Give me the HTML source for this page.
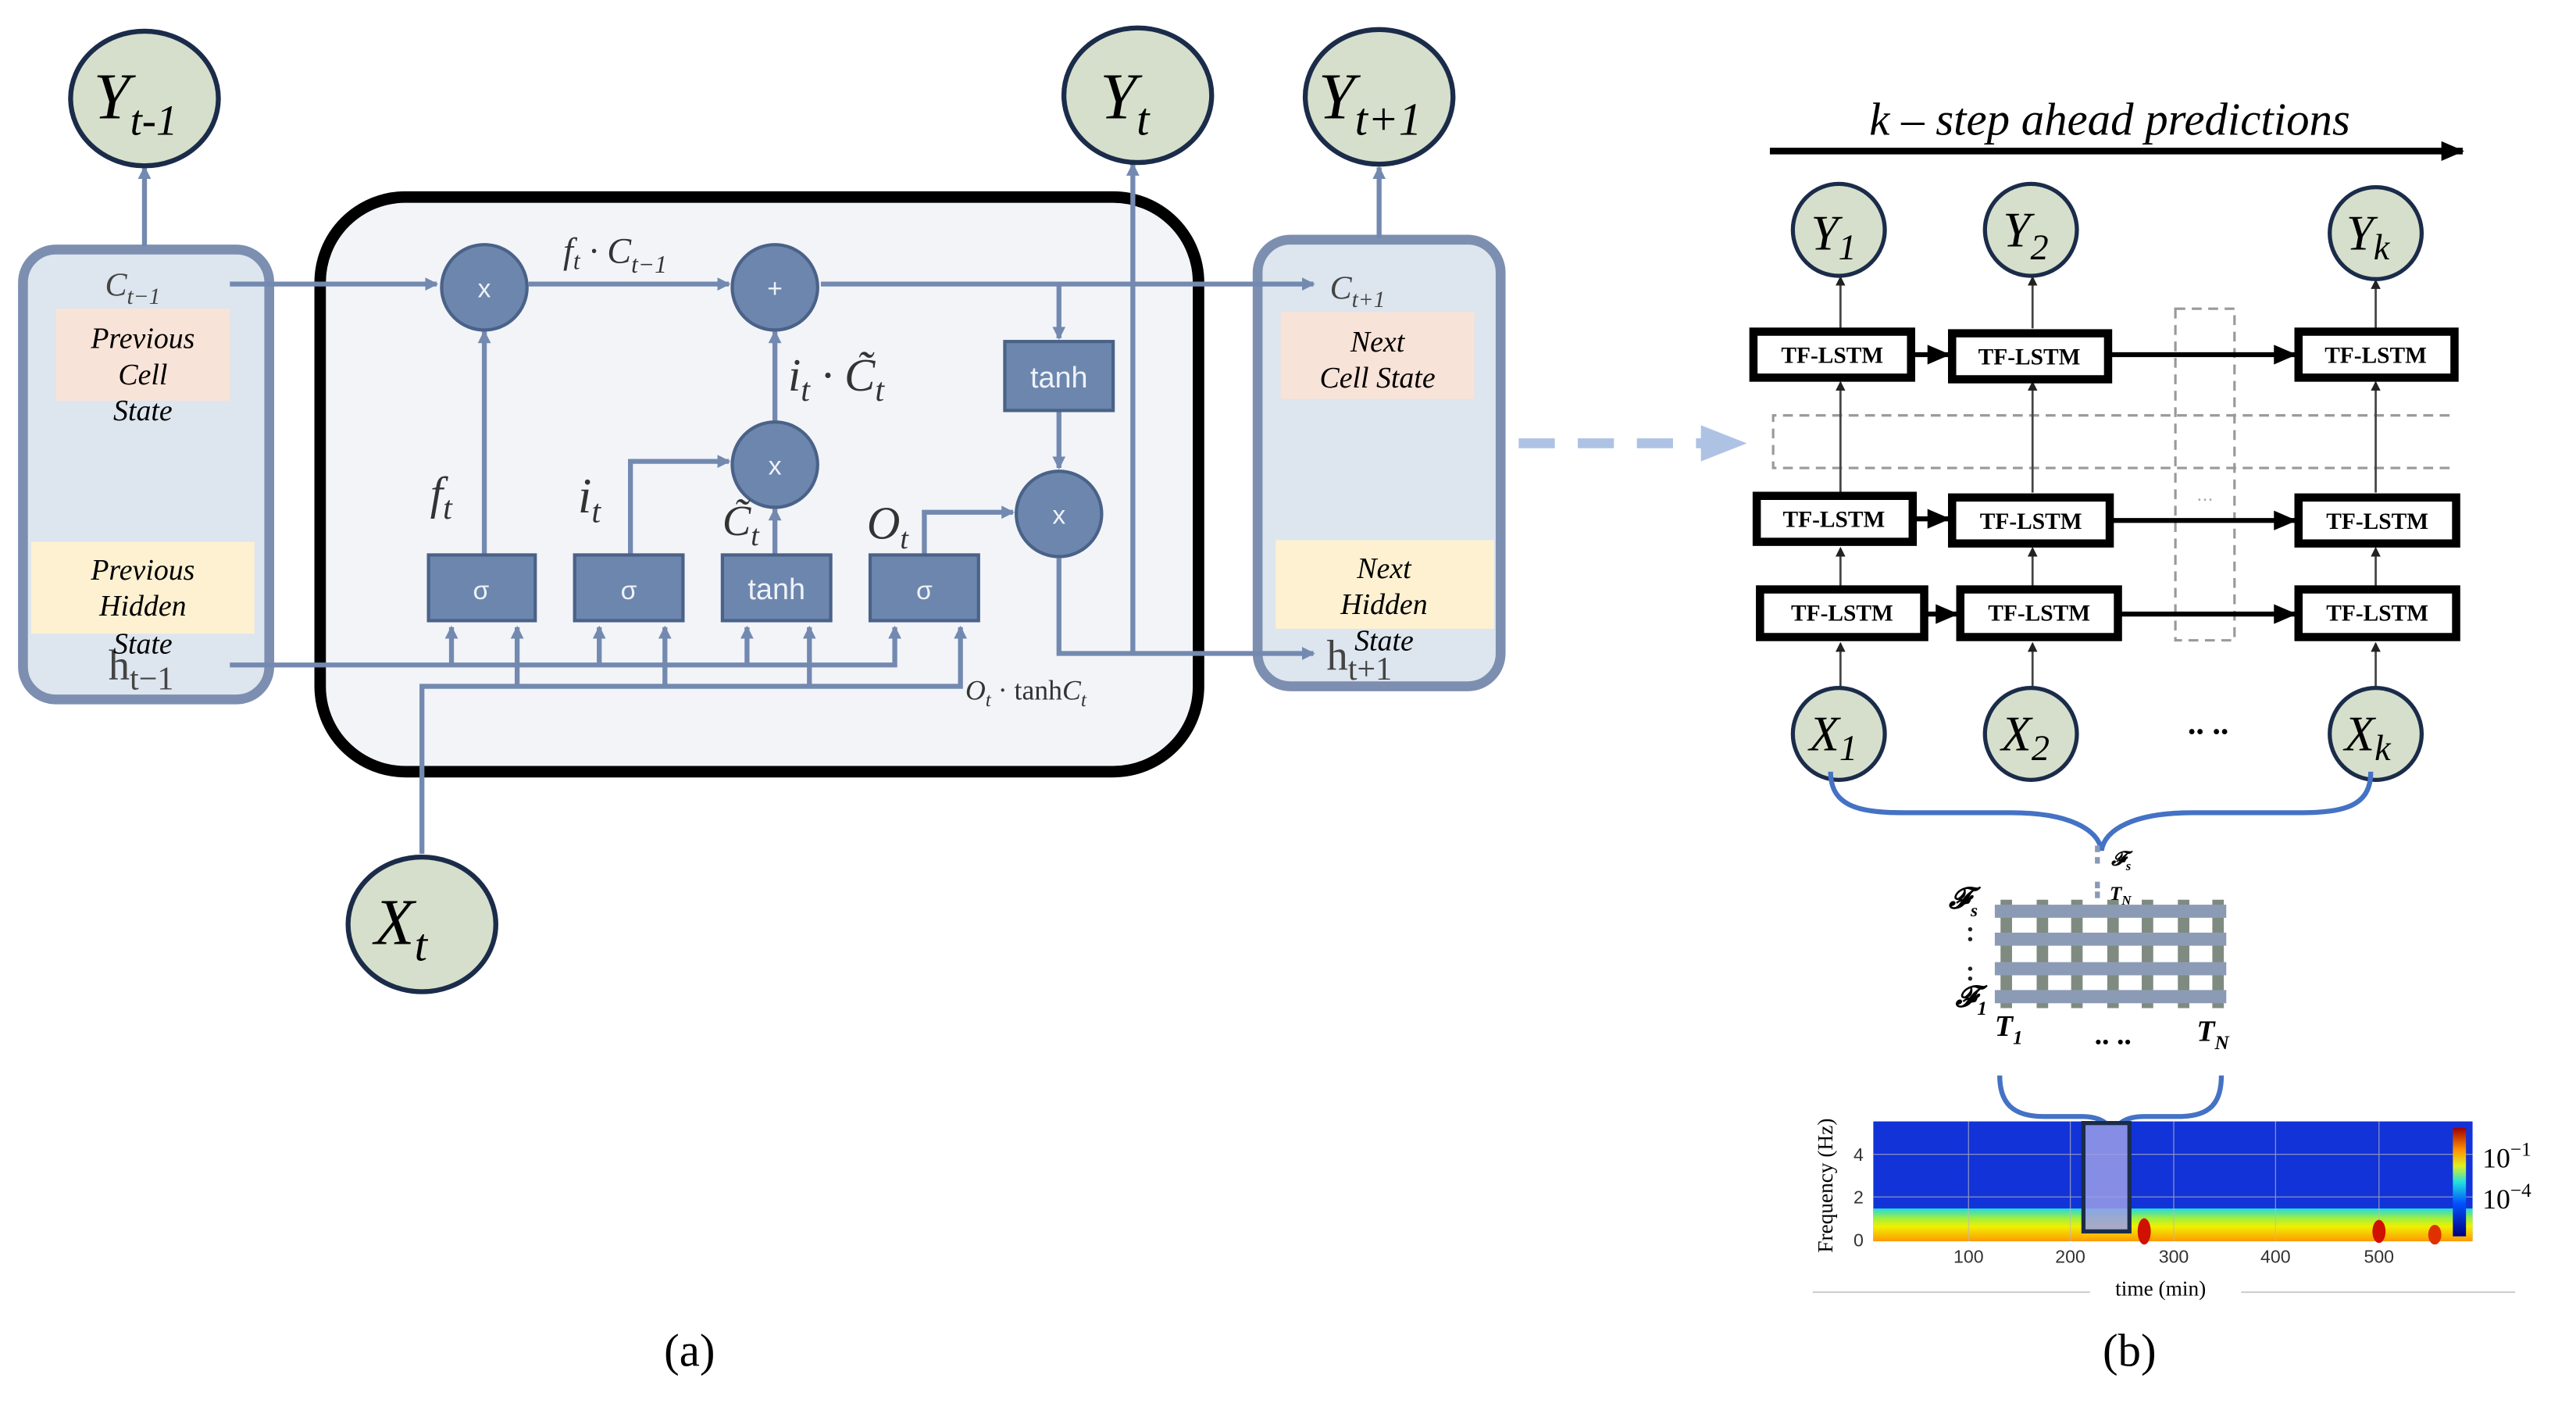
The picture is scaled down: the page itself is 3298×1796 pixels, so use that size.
<!DOCTYPE html>
<html><head><meta charset="utf-8"><style>
html,body{margin:0;padding:0;background:#fff;}
svg{display:block;}
.ser{font-family:"Liberation Serif",serif;}
.sans{font-family:"Liberation Sans",sans-serif;}
</style></head><body>
<svg width="3298" height="1796" viewBox="0 0 1569 854.5" preserveAspectRatio="none" xmlns="http://www.w3.org/2000/svg">
<defs>
<marker id="ab" markerWidth="8" markerHeight="8" refX="7" refY="4" orient="auto" markerUnits="userSpaceOnUse"><path d="M0,0 L8,4 L0,8 Z" fill="#7389b0"/></marker>
<marker id="ak" markerWidth="14" markerHeight="12" refX="13" refY="6" orient="auto" markerUnits="userSpaceOnUse"><path d="M0,0 L14,6 L0,12 Z" fill="#000"/></marker>
<marker id="ak2" markerWidth="6" markerHeight="6" refX="5" refY="3" orient="auto" markerUnits="userSpaceOnUse"><path d="M0,0 L6,3 L0,6 Z" fill="#222"/></marker>
<linearGradient id="cb" x1="0" y1="1" x2="0" y2="0"><stop offset="0" stop-color="#00007f"/><stop offset="0.3" stop-color="#0050ff"/><stop offset="0.5" stop-color="#20e0e0"/><stop offset="0.65" stop-color="#e0f020"/><stop offset="0.8" stop-color="#ff9000"/><stop offset="1" stop-color="#a00000"/></linearGradient>
<linearGradient id="band" x1="0" y1="0" x2="0" y2="1"><stop offset="0" stop-color="#20d8e0"/><stop offset="0.3" stop-color="#a0f040"/><stop offset="0.55" stop-color="#f0f000"/><stop offset="1" stop-color="#ff9a00"/></linearGradient>
</defs>

<!-- ===== Panel (a) ===== -->
<rect x="14" y="152" width="150" height="274" rx="20" fill="#dde5ee" stroke="#7d8fb0" stroke-width="6"/>
<rect x="34" y="188" width="106" height="56" fill="#f8e3d8"/>
<rect x="19" y="330" width="136" height="56" fill="#fdf1d2"/>
<rect x="766" y="146" width="148" height="272" rx="20" fill="#dde5ee" stroke="#7d8fb0" stroke-width="6"/>
<rect x="780" y="190" width="118" height="53" fill="#f8e3d8"/>
<rect x="777" y="329" width="133" height="54" fill="#fdf1d2"/>
<rect x="195" y="120" width="535" height="350" rx="52" fill="#f2f4f8" stroke="#000" stroke-width="7"/>

<g stroke="#7389b0" stroke-width="3" fill="none">
<line x1="140" y1="173" x2="266" y2="173" marker-end="url(#ab)"/>
<line x1="322" y1="173" x2="444" y2="173" marker-end="url(#ab)"/>
<line x1="500" y1="173" x2="800" y2="173" marker-end="url(#ab)"/>
<line x1="645" y1="173" x2="645" y2="206" marker-end="url(#ab)"/>
<line x1="645" y1="250" x2="645" y2="285" marker-end="url(#ab)"/>
<line x1="295" y1="338" x2="295" y2="202" marker-end="url(#ab)"/>
<line x1="472" y1="258" x2="472" y2="202" marker-end="url(#ab)"/>
<line x1="472" y1="338" x2="472" y2="310" marker-end="url(#ab)"/>
<polyline points="384,338 384,281 444,281" marker-end="url(#ab)"/>
<polyline points="563,338 563,312 617,312" marker-end="url(#ab)"/>
<polyline points="645,340 645,398 800,398" marker-end="url(#ab)"/>
<line x1="690" y1="398" x2="690" y2="100" marker-end="url(#ab)"/>
<line x1="88" y1="150" x2="88" y2="102" marker-end="url(#ab)"/>
<line x1="840" y1="145" x2="840" y2="102" marker-end="url(#ab)"/>
<polyline points="140,405 545,405 545,382" marker-end="url(#ab)"/>
<line x1="275" y1="405" x2="275" y2="382" marker-end="url(#ab)"/>
<line x1="365" y1="405" x2="365" y2="382" marker-end="url(#ab)"/>
<line x1="455" y1="405" x2="455" y2="382" marker-end="url(#ab)"/>
<polyline points="257,520 257,418 585,418 585,382" marker-end="url(#ab)"/>
<line x1="315" y1="418" x2="315" y2="382" marker-end="url(#ab)"/>
<line x1="405" y1="418" x2="405" y2="382" marker-end="url(#ab)"/>
<line x1="493" y1="418" x2="493" y2="382" marker-end="url(#ab)"/>
</g>
<g fill="#6d86ad" stroke="#4a6288" stroke-width="2">
<circle cx="295" cy="175" r="26"/><circle cx="472" cy="175" r="26"/>
<circle cx="472" cy="283" r="26"/><circle cx="645" cy="313" r="26"/>
<rect x="612" y="208" width="66" height="42"/>
<rect x="261" y="338" width="65" height="40"/><rect x="350" y="338" width="66" height="40"/>
<rect x="440" y="338" width="66" height="40"/><rect x="530" y="338" width="66" height="40"/>
</g>
<g class="sans" fill="#eef2f8" font-size="16" text-anchor="middle">
<text x="295" y="181">x</text><text x="472" y="181">+</text><text x="472" y="289">x</text><text x="645" y="319">x</text>
<text x="645" y="236" font-size="18">tanh</text>
<text x="293" y="365">σ</text><text x="383" y="365">σ</text><text x="473" y="365" font-size="18">tanh</text><text x="563" y="365">σ</text>
</g>
<g class="ser" font-style="italic" fill="#333">
<text x="343" y="160" font-size="22">f<tspan font-size="15" dy="4">t</tspan><tspan dy="-4"> · C</tspan><tspan font-size="15" dy="6">t−1</tspan></text>
<text x="480" y="238" font-size="28">i<tspan font-size="20" dy="6">t</tspan><tspan dy="-6"> · C̃</tspan><tspan font-size="20" dy="6">t</tspan></text>
<text x="262" y="310" font-size="28">f<tspan font-size="20" dy="6">t</tspan></text>
<text x="352" y="312" font-size="30">i<tspan font-size="20" dy="6">t</tspan></text>
<text x="440" y="326" font-size="26">C̃<tspan font-size="18" dy="6">t</tspan></text>
<text x="528" y="328" font-size="28">O<tspan font-size="18" dy="6">t</tspan></text>
<text x="588" y="426" font-size="17">O<tspan font-size="12" dy="4">t</tspan><tspan dy="-4" font-style="normal"> · tanh</tspan>C<tspan font-size="12" dy="4">t</tspan></text>
<text x="64" y="180" font-size="20" fill="#444">C<tspan font-size="14" dy="5">t−1</tspan></text>
<text x="810" y="182" font-size="20" fill="#444">C<tspan font-size="14" dy="5">t+1</tspan></text>
</g>
<g class="ser" font-size="26" fill="#444">
<text x="66" y="414">h<tspan font-size="20" dy="6">t−1</tspan></text>
<text x="808" y="408">h<tspan font-size="20" dy="6">t+1</tspan></text>
</g>
<g class="ser" font-style="italic" font-size="18" fill="#000" text-anchor="middle">
<text x="87" y="212">Previous</text><text x="87" y="234">Cell</text><text x="87" y="256">State</text>
<text x="87" y="353">Previous</text><text x="87" y="375">Hidden</text><text x="87" y="398">State</text>
<text x="839" y="214">Next</text><text x="839" y="236">Cell State</text>
<text x="843" y="352">Next</text><text x="843" y="374">Hidden</text><text x="843" y="396">State</text>
</g>
<g fill="#d6dfcb" stroke="#1b2c4a" stroke-width="3">
<ellipse cx="88" cy="60" rx="45" ry="41"/>
<ellipse cx="693" cy="58" rx="45" ry="41"/>
<ellipse cx="840" cy="59" rx="45" ry="41"/>
<ellipse cx="257" cy="563" rx="45" ry="41"/>
</g>
<g class="ser" font-style="italic" fill="#000">
<text x="57" y="72" font-size="40">Y<tspan font-size="26" dy="10">t-1</tspan></text>
<text x="670" y="72" font-size="40">Y<tspan font-size="28" dy="10">t</tspan></text>
<text x="803" y="72" font-size="40">Y<tspan font-size="28" dy="10">t+1</tspan></text>
<text x="228" y="575" font-size="40">X<tspan font-size="28" dy="10">t</tspan></text>
</g>
<line x1="925" y1="270" x2="1040" y2="270" stroke="#aec2e4" stroke-width="6" stroke-dasharray="22,14"/>
<path d="M1036,259 L1064,270 L1036,281 Z" fill="#aec2e4"/>
<text class="ser" x="420" y="832" font-size="28" text-anchor="middle">(a)</text>

<!-- ===== Panel (b) ===== -->
<text class="ser" x="1285" y="82" font-size="28" font-style="italic" text-anchor="middle">k – step ahead predictions</text>
<line x1="1078" y1="92" x2="1500" y2="92" stroke="#000" stroke-width="4" marker-end="url(#ak)"/>
<g fill="none" stroke="#999" stroke-width="1.5" stroke-dasharray="6,4">
<path d="M1492,253 L1080,253 L1080,285 L1492,285"/>
<rect x="1325" y="188" width="36" height="202"/>
</g>
<text x="1343" y="305" font-size="12" fill="#aaa" text-anchor="middle" class="sans">...</text>
<g stroke="#444" stroke-width="1.3" marker-end="url(#ak2)">
<line x1="1121" y1="200" x2="1121" y2="169"/><line x1="1238" y1="200" x2="1238" y2="169"/><line x1="1447" y1="200" x2="1447" y2="171"/>
<line x1="1121" y1="300" x2="1121" y2="233"/><line x1="1238" y1="300" x2="1238" y2="233"/><line x1="1447" y1="300" x2="1447" y2="233"/>
<line x1="1121" y1="358" x2="1121" y2="334"/><line x1="1238" y1="358" x2="1238" y2="334"/><line x1="1447" y1="358" x2="1447" y2="334"/>
<line x1="1121" y1="420" x2="1121" y2="392"/><line x1="1238" y1="420" x2="1238" y2="392"/><line x1="1447" y1="420" x2="1447" y2="392"/>
</g>
<g stroke="#000" stroke-width="3" marker-end="url(#ak)">
<line x1="1164" y1="216" x2="1187" y2="216"/><line x1="1284" y1="216" x2="1398" y2="216"/>
<line x1="1166" y1="316" x2="1187" y2="316"/><line x1="1285" y1="317" x2="1398" y2="317"/>
<line x1="1173" y1="374" x2="1192" y2="374"/><line x1="1290" y1="374" x2="1398" y2="374"/>
</g>
<g fill="#fff" stroke="#000" stroke-width="5">
<rect x="1068" y="202" width="96" height="28"/><rect x="1189" y="203" width="95" height="28"/><rect x="1400" y="202" width="95" height="28"/>
<rect x="1070" y="302" width="95" height="28"/><rect x="1189" y="303" width="96" height="28"/><rect x="1400" y="303" width="96" height="28"/>
<rect x="1072" y="359" width="100" height="29"/><rect x="1194" y="359" width="96" height="29"/><rect x="1400" y="359" width="96" height="29"/>
</g>
<g class="ser" font-weight="bold" font-size="14" text-anchor="middle">
<text x="1116" y="221">TF-LSTM</text><text x="1236" y="222">TF-LSTM</text><text x="1447" y="221">TF-LSTM</text>
<text x="1117" y="321">TF-LSTM</text><text x="1237" y="322">TF-LSTM</text><text x="1448" y="322">TF-LSTM</text>
<text x="1122" y="378">TF-LSTM</text><text x="1242" y="378">TF-LSTM</text><text x="1448" y="378">TF-LSTM</text>
</g>
<g fill="#d6dfcb" stroke="#1b2c4a" stroke-width="2.5">
<circle cx="1120" cy="140" r="28"/><circle cx="1237" cy="140" r="28"/><circle cx="1447" cy="142" r="28"/>
<circle cx="1120" cy="447" r="28"/><circle cx="1237" cy="447" r="28"/><circle cx="1447" cy="447" r="28"/>
</g>
<g class="ser" font-style="italic" font-size="30" fill="#000">
<text x="1103" y="152">Y<tspan font-size="22" dy="6">1</tspan></text>
<text x="1220" y="150">Y<tspan font-size="22" dy="8">2</tspan></text>
<text x="1429" y="152">Y<tspan font-size="22" dy="6">k</tspan></text>
<text x="1102" y="457">X<tspan font-size="22" dy="6">1</tspan></text>
<text x="1219" y="457">X<tspan font-size="22" dy="6">2</tspan></text>
<text x="1428" y="457">X<tspan font-size="22" dy="6">k</tspan></text>
</g>
<text x="1345" y="447" font-size="20" font-weight="bold" text-anchor="middle" class="ser">..  ..</text>
<g fill="none" stroke="#4472c4" stroke-width="3">
<path d="M1115,470 C1115,490 1130,495 1160,495 L1225,495 C1260,495 1278,505 1280,518 C1282,505 1300,495 1335,495 L1400,495 C1430,495 1444,490 1444,470"/>
<path d="M1218,655 C1218,672 1226,680 1245,680 L1268,680 C1280,680 1286,685 1287,692 C1288,685 1294,680 1306,680 L1327,680 C1346,680 1353,672 1353,655"/>
</g>
<rect x="1215" y="548" width="141" height="66" fill="#fff"/>
<g stroke="#7f8a80" stroke-width="7">
<line x1="1222" y1="548" x2="1222" y2="614"/><line x1="1244" y1="548" x2="1244" y2="614"/><line x1="1265" y1="548" x2="1265" y2="614"/>
<line x1="1287" y1="548" x2="1287" y2="614"/><line x1="1308" y1="548" x2="1308" y2="614"/><line x1="1330" y1="548" x2="1330" y2="614"/><line x1="1351" y1="548" x2="1351" y2="614"/>
</g>
<g stroke="#8c9bb5" stroke-width="8">
<line x1="1215" y1="555" x2="1356" y2="555"/><line x1="1215" y1="572" x2="1356" y2="572"/><line x1="1215" y1="590" x2="1356" y2="590"/><line x1="1215" y1="607" x2="1356" y2="607"/>
</g>
<g class="ser" font-weight="bold" font-style="italic" fill="#000">
<text x="1187" y="553" font-size="18">𝓕<tspan font-size="11" dy="5">s</tspan></text>
<text x="1191" y="613" font-size="18">𝓕<tspan font-size="12" dy="5">1</tspan></text>
<text x="1215" y="631" font-size="18">T<tspan font-size="12" dy="5">1</tspan></text>
<text x="1338" y="634" font-size="18">T<tspan font-size="12" dy="5">N</tspan></text>
<text x="1286" y="527" font-size="12">𝓕<tspan font-size="8" dy="3">s</tspan></text>
<text x="1285" y="548" font-size="12">T<tspan font-size="8" dy="3">N</tspan></text>
</g>
<g fill="#222"><circle cx="1200" cy="566" r="1.3"/><circle cx="1200" cy="572" r="1.3"/><circle cx="1200" cy="590" r="1.3"/><circle cx="1200" cy="596" r="1.3"/></g>
<g fill="#8a9ab5"><rect x="1276" y="515" width="3" height="4"/><rect x="1276" y="522" width="3" height="4"/><rect x="1276" y="537" width="3" height="4"/><rect x="1276" y="543" width="3" height="4"/></g>
<text x="1287" y="636" font-size="18" font-weight="bold" text-anchor="middle" class="ser">..  ..</text>
<rect x="1141" y="683" width="365" height="73" fill="#1233d8"/>
<rect x="1141" y="736" width="365" height="20" fill="url(#band)"/>
<g stroke="#bbb" stroke-width="0.6" opacity="0.7">
<line x1="1141" y1="703" x2="1506" y2="703"/><line x1="1141" y1="729" x2="1506" y2="729"/>
<line x1="1199" y1="683" x2="1199" y2="756"/><line x1="1261" y1="683" x2="1261" y2="756"/><line x1="1324" y1="683" x2="1324" y2="756"/><line x1="1386" y1="683" x2="1386" y2="756"/><line x1="1449" y1="683" x2="1449" y2="756"/>
</g>
<ellipse cx="1306" cy="750" rx="4" ry="8" fill="#d01000"/><ellipse cx="1449" cy="750" rx="4" ry="7" fill="#d01000"/><ellipse cx="1483" cy="752" rx="4" ry="6" fill="#e03000"/>
<rect x="1494" y="687" width="8" height="66" fill="url(#cb)"/>
<rect x="1269" y="684" width="28" height="66" fill="#9a9ee8" fill-opacity="0.85" stroke="#1b2c4a" stroke-width="2.5"/>
<g class="sans" font-size="11" fill="#333" text-anchor="middle">
<text x="1199" y="769">100</text><text x="1261" y="769">200</text><text x="1324" y="769">300</text><text x="1386" y="769">400</text><text x="1449" y="769">500</text>
<text x="1132" y="707">4</text><text x="1132" y="733">2</text><text x="1132" y="759">0</text>
</g>
<text class="ser" font-size="13" transform="translate(1116,763) rotate(-90)">Frequency (Hz)</text>
<text class="ser" x="1316" y="789" font-size="13" text-anchor="middle">time (min)</text>
<line x1="1104" y1="787" x2="1273" y2="787" stroke="#ccc" stroke-width="1"/><line x1="1365" y1="787" x2="1532" y2="787" stroke="#ccc" stroke-width="1"/>
<text class="ser" x="1512" y="711" font-size="17">10<tspan font-size="12" dy="-7">−1</tspan></text>
<text class="ser" x="1512" y="736" font-size="17">10<tspan font-size="12" dy="-7">−4</tspan></text>
<text class="ser" x="1297" y="832" font-size="28" text-anchor="middle">(b)</text>
</svg>
</body></html>
